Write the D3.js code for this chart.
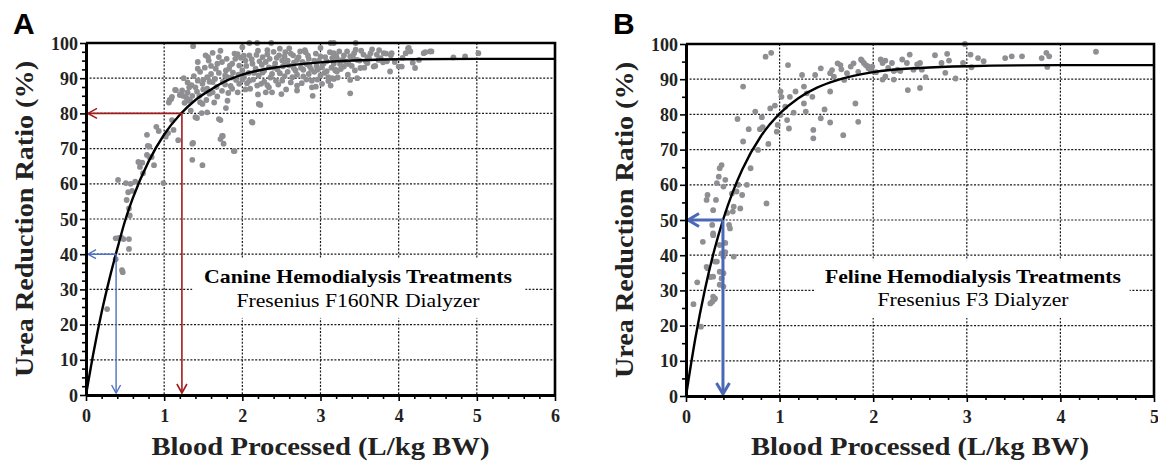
<!DOCTYPE html>
<html><head><meta charset="utf-8">
<script src="https://cdn.jsdelivr.net/npm/d3@7"></script>
<style>body{margin:0;background:#fff}svg{display:block;background:#fff}</style>
</head><body><svg id="c" width="1158" height="465"></svg>
<script>
// ---------- DATA ----------
const yTicks = [0,10,20,30,40,50,60,70,80,90,100];
const xTicksA = [0,1,2,3,4,5,6];
const xTicksB = [0,1,2,3,4,5];
const panelLetters = ["A","B"];
const boxTitles = ["Canine Hemodialysis Treatments","Feline Hemodialysis Treatments"];
const boxSubtitles = ["Fresenius F160NR Dialyzer","Fresenius F3 Dialyzer"];
const xTitle = "Blood Processed (L/kg BW)";
const yTitle = "Urea Reduction Ratio (%)";

// fitted curves
const canineCurveX = [0,0.1,0.2,0.3,0.4,0.5,0.6,0.8,1.0,1.2,1.4,1.6,1.8,2.0,2.5,3.0,3.5,4.0,5.0,6.0];
const canineCurveY = [0,12.5,23.5,33,41.5,49.5,56,66.3,74,79.6,83.8,86.8,89.3,91,93.3,94.5,95.1,95.4,95.5,95.5];
const felineCurveX = [0,0.1,0.2,0.3,0.4,0.5,0.6,0.8,1.0,1.2,1.4,1.6,1.8,2.0,2.5,3.0,4.0,5.0];
const felineCurveY = [0,16.4,30,41.2,50.4,58,64.3,73.8,80.2,84.6,87.6,89.6,91,92,93.2,93.7,94,94];

// guide arrows [x, y]
const canineGuides = [[0.385,40],[1.227,80]];
const felineGuides = [[0.395,50]];

// scatter points [blood processed, URR]
const caninePoints = [
[0.27,24.4],[0.38,44.5],[0.42,44.6],[0.45,44.8],[0.48,44.3],[0.55,44.3],[0.55,41.5],[0.38,38.6],[0.46,35.5],[0.47,34.9],
[0.41,61.1],[0.51,60.2],[0.57,60.0],[0.52,55.4],[0.54,57.6],[0.55,53.0],[0.56,51.0],[0.59,58.0],[0.63,60.6],[0.67,66.2],
[0.69,64.8],[0.72,66.0],[0.78,73.9],[0.79,70.8],[0.81,70.6],[0.78,68.2],[0.81,67.6],[0.84,67.6],[0.87,65.3],[0.73,63.0],
[0.90,76.2],[0.93,75.0],[0.99,60.2],[1.02,73.4],[1.05,74.4],[1.12,75.3],[1.10,78.1],[1.07,83.8],[1.10,84.7],[1.15,86.6],
[1.20,85.2],[1.24,85.0],[1.18,72.4],[1.37,99.1],[1.36,66.8],[1.49,65.3],[1.37,71.6],[1.42,78.7],[1.48,80.1],[1.33,83.8],
[1.43,94.6],[1.43,92.7],[1.50,89.5],[1.56,96.0],[1.72,78.1],[1.75,73.6],[1.76,71.4],[1.90,69.3],[1.54,83.8],[1.67,87.5],
[1.79,81.5],[2.12,77.6],[2.23,82.4],
[1.09,84.1],[1.06,83.1],[1.14,86.7],[1.21,85.5],[1.28,84.6],[1.31,83.6],[1.36,85.0],[1.40,87.4],[1.43,89.3],[1.49,88.4],
[1.55,90.3],[1.60,91.2],[1.62,88.9],[1.66,92.7],[1.68,94.1],[1.57,95.0],[1.53,96.5],[1.70,96.0],[1.74,94.6],[1.79,92.2],
[1.81,90.3],[1.83,92.7],[1.87,94.1],[1.91,95.5],[1.96,93.6],[2.00,92.2],[2.02,90.3],[2.04,95.0],[2.09,96.5],[2.13,94.1],
[2.17,92.7],[2.21,90.8],[2.26,96.0],[2.30,94.6],[2.34,93.1],[2.38,91.2],[2.43,89.3],[2.47,96.5],[2.51,95.0],[2.55,97.4],
[2.60,93.6],[2.64,90.3],[2.68,92.2],[2.72,96.0],[2.77,94.6],[2.81,97.4],[2.85,91.2],[2.89,89.3],[2.94,97.0],[2.98,95.0],
[3.02,93.1],[3.06,96.0],[3.10,90.3],[3.17,94.1],[3.19,92.2],[2.21,82.7],[2.13,77.4],[1.70,78.4],[1.74,73.6],[1.72,72.7],
[1.89,69.3],[1.40,78.9],[1.36,71.4],[1.55,80.3],[1.32,87.4],[1.23,86.5],[1.49,82.7],[1.64,83.1],[1.81,83.6],[1.87,87.0],
[1.96,88.4],[2.09,89.3],[2.19,87.9],[2.34,87.4],[2.51,89.3],[2.70,87.9],[2.89,87.4],[3.02,88.4],[3.17,89.8],[3.13,87.9],
[2.09,100],[2.19,100],[2.37,100],[3.13,100],[3.17,100],[3.45,100],
[3.17,97.1],[3.21,95.7],[3.32,94.8],[3.38,96.2],[3.43,97.1],[3.45,98.1],[3.47,95.2],[3.51,92.9],[3.55,96.7],[3.60,94.3],
[3.64,97.1],[3.68,93.3],[3.72,96.7],[3.77,95.7],[3.81,97.1],[3.85,94.8],[3.89,91.9],[3.91,97.1],[4.00,93.3],[4.04,93.3],
[4.09,97.1],[4.13,98.6],[4.15,97.6],[4.21,92.9],[4.26,95.2],[4.32,97.1],[4.40,97.6],[4.70,95.9],[4.85,96.2],[5.02,97.1],
[3.38,89.5],[3.47,90.0],[3.38,85.7],[3.19,92.4],[3.15,90.0],[3.21,91.9],[3.30,93.3],[4.12,98.5],[4.34,97.4],[4.42,97.6],
[1.95,91.0],[2.05,93.5],[2.15,91.5],[2.25,93.8],[2.35,95.5],[2.45,92.5],[2.55,94.0],[2.65,96.5],[2.75,93.0],[2.85,95.5],
[2.95,93.5],[3.05,91.5],[3.15,95.8],[3.25,94.0],[2.40,97.5],[2.60,98.5],[2.80,98.0],[3.00,98.6],[1.90,97.0],[2.00,98.8],
[2.20,97.8],[1.75,89.0],[1.85,87.8],[2.10,87.0],[2.30,86.0],[2.50,85.5],[2.70,86.5],[2.90,85.0],[3.30,96.5],[3.40,93.5],
[3.50,95.0],[3.60,96.0],[3.70,93.5],[3.80,94.5],[3.90,96.5],[1.60,93.5],[1.70,91.5],[1.80,95.5],[1.65,89.8],[1.55,87.0],
[1.45,85.0],[1.35,88.0],[1.30,86.0],[1.25,90.0],[1.92,89.5],[2.08,91.5],[2.28,89.0],[2.42,94.2],[2.58,91.8],[2.62,88.8],
[2.78,90.5],[2.92,91.8],[3.08,94.8],[3.24,97.6],[2.48,98.4],[2.32,98.0],[1.98,95.8],[1.84,93.6],[2.70,95.2],[2.86,93.4],
[3.35,91.0],[3.56,93.0],[3.75,98.0],[3.95,94.6],[4.05,95.8],[4.18,94.4],[2.56,86.8],[2.96,89.6],[2.24,88.4],[1.58,85.6],
[1.38,90.6],[1.46,91.8],[1.52,93.0],[1.62,97.2],[1.72,97.8],[1.78,90.8],[1.88,91.6],[1.94,96.8],[2.02,96.4],[2.06,88.6],
[2.12,95.4],[2.18,96.6],[2.22,94.8],[2.28,92.2],[2.32,96.8],[2.36,90.2],[2.40,93.0],[2.44,95.8],[2.48,91.4],[2.52,93.4],
[2.54,96.2],[2.58,95.0],[2.62,97.0],[2.66,94.4],[2.70,91.0],[2.74,97.6],[2.78,92.4],[2.82,94.0],[2.84,96.4],[2.88,92.6],
[2.92,95.0],[2.96,92.4],[3.00,96.2],[3.04,94.2],[3.08,92.0],[3.12,97.4],[3.14,93.0],[3.20,96.4],[3.26,92.6],[3.28,95.2],
[3.34,97.6],[3.36,94.0],[3.42,95.6],[3.44,92.2],[3.52,97.8],[3.58,94.8],[3.62,95.8],[3.66,98.2],[3.74,95.2],[3.84,97.0],
[1.26,83.0],[1.30,88.8],[1.34,80.8],[1.42,86.2],[1.46,83.2],[1.50,86.8],[1.58,89.0],[1.62,86.0],[1.68,84.8],[1.74,86.4],
[1.78,88.2],[1.82,85.8],[1.86,90.2],[1.94,86.0],[2.00,89.6],[2.04,86.8],[2.14,89.6],[2.20,85.4],[2.26,91.6],[2.32,88.0],
[2.38,86.0],[2.46,88.2],[2.54,90.6],[2.66,92.8],[2.76,88.6],[2.82,89.6],[2.94,87.6],[3.00,90.8],[3.10,89.2],[3.22,90.2]
];

const felinePoints = [
[0.85,96.4],[0.91,97.5],[1.09,94.0],[0.61,87.9],[0.55,78.7],[0.67,75.8],[0.61,72.3],[0.74,80.8],[0.81,79.2],[0.79,75.8],
[0.82,76.4],[0.90,81.7],[0.88,71.6],[0.77,69.9],[0.69,64.7],[0.38,65.6],[0.36,64.7],[0.35,62.3],[0.42,61.4],[0.40,59.5],
[0.56,60.0],[0.65,60.0],[0.54,58.1],[0.60,57.1],[0.58,53.3],[0.50,52.4],[0.51,53.8],[0.46,48.6],[0.47,47.6],[0.29,52.8],
[0.23,57.1],[0.22,55.7],[0.32,55.7],[0.86,54.7],[0.28,48.6],[0.29,46.2],[0.18,43.8],[0.36,42.9],[0.38,40.5],[0.51,39.6],
[0.31,38.2],[0.23,36.3],[0.29,33.9],[0.36,35.3],[0.38,33.4],[0.12,32.3],[0.36,31.6],[0.29,28.2],[0.26,26.3],[0.31,27.7],
[0.08,26.1],[0.16,19.7],[0.40,31.1],[0.40,39.6],[0.29,45.7],[0.42,43.5],[0.42,40.9],[0.33,38.2],[0.22,36.7],[0.26,33.8],
[0.40,34.9],[0.28,26.8],[0.30,27.4],[0.44,52.0],[0.49,57.5],[0.33,60.5],
[1.01,86.5],[1.02,85.0],[1.11,85.0],[1.06,82.2],[1.01,79.8],[1.08,78.4],[1.10,76.0],[0.98,77.0],[0.97,75.1],[1.17,86.5],
[1.26,87.9],[1.26,83.1],[1.28,80.8],[1.29,86.0],[1.35,85.0],[1.36,75.6],[1.36,73.2],[1.44,78.9],[1.48,81.4],[1.54,77.7],
[1.54,86.5],[1.24,91.2],[1.38,91.2],[1.44,93.1],[1.54,91.7],[1.56,92.6],[1.58,90.7],[1.62,94.5],[1.65,94.0],[1.66,92.8],
[1.69,89.8],[1.72,91.7],[1.68,74.1],[1.81,83.1],[1.84,77.9],[1.76,93.6],[1.79,94.5],[1.84,92.1],[1.88,95.3],[1.92,94.0],
[1.95,93.1],[1.99,93.6],[0.95,82.5],[1.15,80.5],
[1.87,95.6],[1.90,94.6],[1.94,93.7],[1.97,92.7],[2.08,95.6],[2.10,94.6],[2.13,95.3],[2.20,94.6],[2.22,92.3],[2.26,92.7],
[2.29,92.3],[2.31,95.6],[2.36,94.6],[2.39,97.0],[2.43,92.7],[2.47,94.2],[2.50,94.6],[2.52,92.7],[2.56,90.6],[2.10,89.9],
[2.13,90.8],[2.22,89.9],[2.37,86.9],[2.50,87.5],[2.66,96.8],[2.73,94.6],[2.77,91.8],[2.79,97.2],[2.81,95.3],[2.88,90.2],
[2.96,94.6],[2.98,100],[3.04,97.0],[3.05,93.4],[3.12,96.0],[3.18,95.1],[3.41,96.0],[3.48,96.5],[3.59,96.5],[3.80,96.0],
[3.85,97.5],[3.88,96.5],[3.86,93.5],[4.38,97.8],[2.03,92.0],[2.16,93.2]
];

// ---------- DRAW ----------
const svg = d3.select("#c");
const serif = "'Liberation Serif','Times New Roman',serif";

function panel(o) {
  const x = d3.scaleLinear().domain([0, o.xmax]).range([o.left, o.right]);
  const y = d3.scaleLinear().domain([0, 100]).range([o.bottom, o.top]);
  const g = svg.append("g");

  g.append("text").attr("x", o.letterX).attr("y", 34).text(o.letter)
    .attr("font-family", "'Liberation Sans',Arial,sans-serif").attr("font-weight", "bold").attr("font-size", 30);

  g.selectAll(".hg").data(yTicks.filter(v => v > 0 && v < 100)).join("line")
    .attr("x1", o.left).attr("x2", o.right).attr("y1", d => y(d)).attr("y2", d => y(d))
    .attr("stroke", "#1a1a1a").attr("stroke-width", 1.2).attr("stroke-dasharray", "2,1.6");
  g.selectAll(".vg").data(o.xTicks.filter(v => v > 0 && v < o.xmax)).join("line")
    .attr("x1", d => x(d)).attr("x2", d => x(d)).attr("y1", o.top).attr("y2", o.bottom)
    .attr("stroke", "#1a1a1a").attr("stroke-width", 1.2).attr("stroke-dasharray", "2,1.6");

  g.append("rect").attr("x", x(o.box[0])).attr("y", y(o.box[3]))
    .attr("width", x(o.box[1]) - x(o.box[0])).attr("height", y(o.box[2]) - y(o.box[3]))
    .attr("fill", "#fff");
  g.append("text").attr("x", o.textX).attr("y", o.textY1).attr("text-anchor", "middle")
    .attr("font-family", serif).attr("font-weight", "bold").attr("font-size", 19)
    .attr("textLength", o.titleLen).attr("lengthAdjust", "spacingAndGlyphs").text(o.title);
  g.append("text").attr("x", o.textX).attr("y", o.textY2).attr("text-anchor", "middle")
    .attr("font-family", serif).attr("font-size", 19)
    .attr("textLength", o.subLen).attr("lengthAdjust", "spacingAndGlyphs").text(o.sub);

  g.selectAll(".pt").data(o.points).join("circle")
    .attr("cx", d => x(d[0])).attr("cy", d => y(d[1])).attr("r", 2.9)
    .attr("fill", "#8f8f93");

  const cdata = o.cx.map((v, i) => [v, o.cy[i]]);
  g.append("path").datum(cdata)
    .attr("d", d3.line().x(d => x(d[0])).y(d => y(d[1])).curve(d3.curveMonotoneX))
    .attr("fill", "none").attr("stroke", "#000").attr("stroke-width", 2.4);

  o.guides.forEach((gd, i) => {
    const st = o.guideStyle[i];
    const px = x(gd[0]), py = y(gd[1]);
    const lx = x(0) + 2, by = y(0) - 2;
    g.append("path").attr("d", `M${px},${py}L${lx},${py}M${px},${py}L${px},${by}`)
      .attr("fill", "none").attr("stroke", st.color).attr("stroke-width", st.w);
    g.append("path")
      .attr("d", `M${lx + st.L},${py - st.h}L${lx},${py}L${lx + st.L},${py + st.h}` +
                 `M${px - st.h},${by - st.L}L${px},${by}L${px + st.h},${by - st.L}`)
      .attr("fill", "none").attr("stroke", st.color).attr("stroke-width", st.w);
  });

  const yAx = g.append("g").attr("transform", `translate(${o.left},0)`)
    .call(d3.axisLeft(y).tickValues(yTicks).tickSize(6).tickSizeOuter(0).tickFormat(d3.format("d")));
  const yMinor = d3.range(0, 100.01, o.yMinor).filter(v => v % 10 !== 0);
  g.append("g").attr("transform", `translate(${o.left},0)`)
    .call(d3.axisLeft(y).tickValues(yMinor).tickSize(4).tickFormat("").tickSizeOuter(0))
    .call(s => s.select(".domain").remove());
  const xAx = g.append("g").attr("transform", `translate(0,${o.bottom})`)
    .call(d3.axisBottom(x).tickValues(o.xTicks).tickSize(6).tickSizeOuter(0).tickFormat(d3.format("d")));
  const xMinor = d3.range(0, o.xmax * 5 + 0.5, 1).map(v => v / 5).filter(v => Math.abs(v - Math.round(v)) > 1e-6);
  g.append("g").attr("transform", `translate(0,${o.bottom})`)
    .call(d3.axisBottom(x).tickValues(xMinor).tickSize(4).tickFormat("").tickSizeOuter(0))
    .call(s => s.select(".domain").remove());

  [yAx, xAx].forEach(a => {
    a.select(".domain").attr("stroke", "#000").attr("stroke-width", 3);
    a.selectAll("text").attr("font-family", serif).attr("font-weight", "bold")
      .attr("font-size", 18).attr("fill", "#222");
  });
  g.selectAll("g.tick line").attr("stroke", "#000").attr("stroke-width", 1.6);
  yAx.selectAll("text").attr("x", -8).attr("dy", "0.34em");
  xAx.selectAll("text").attr("y", 27).attr("dy", 0);

  g.append("path").attr("d", `M${o.left},${o.top}L${o.right},${o.top}L${o.right},${o.bottom}`)
    .attr("fill", "none").attr("stroke", "#000").attr("stroke-width", 2.6);

  g.append("text").attr("x", (o.left + o.right) / 2).attr("y", 455).attr("text-anchor", "middle")
    .attr("font-family", serif).attr("font-weight", "bold").attr("font-size", 25).attr("fill", "#222")
    .attr("textLength", 338).attr("lengthAdjust", "spacingAndGlyphs").text(xTitle);
  g.append("text").attr("transform", `translate(${o.yTitleX},${(o.top + o.bottom) / 2}) rotate(-90)`)
    .attr("text-anchor", "middle")
    .attr("font-family", serif).attr("font-weight", "bold").attr("font-size", 25).attr("fill", "#222")
    .attr("textLength", 316).attr("lengthAdjust", "spacingAndGlyphs").text(yTitle);
}

panel({
  letter: panelLetters[0], letterX: 13, xmax: 6, xTicks: xTicksA,
  left: 86, right: 555, top: 43, bottom: 395, yMinor: 2.5,
  box: [1.36, 5.62, 21.9, 38.9],
  textX: 358, textY1: 283, textY2: 307, title: boxTitles[0], sub: boxSubtitles[0],
  titleLen: 308, subLen: 243,
  points: caninePoints, cx: canineCurveX, cy: canineCurveY,
  guides: canineGuides,
  guideStyle: [{color: "#4f72c2", w: 1.4, L: 8, h: 4.5}, {color: "#a11d1d", w: 1.6, L: 9, h: 5}],
  yTitleX: 33
});
panel({
  letter: panelLetters[1], letterX: 613, xmax: 5, xTicks: xTicksB,
  left: 686, right: 1154, top: 44, bottom: 396, yMinor: 5,
  box: [1.38, 4.74, 22.2, 38.6],
  textX: 973, textY1: 283, textY2: 306, title: boxTitles[1], sub: boxSubtitles[1],
  titleLen: 296, subLen: 191,
  points: felinePoints, cx: felineCurveX, cy: felineCurveY,
  guides: felineGuides,
  guideStyle: [{color: "#4a68b6", w: 3, L: 11, h: 6.5}],
  yTitleX: 633
});
</script>
</body></html>
